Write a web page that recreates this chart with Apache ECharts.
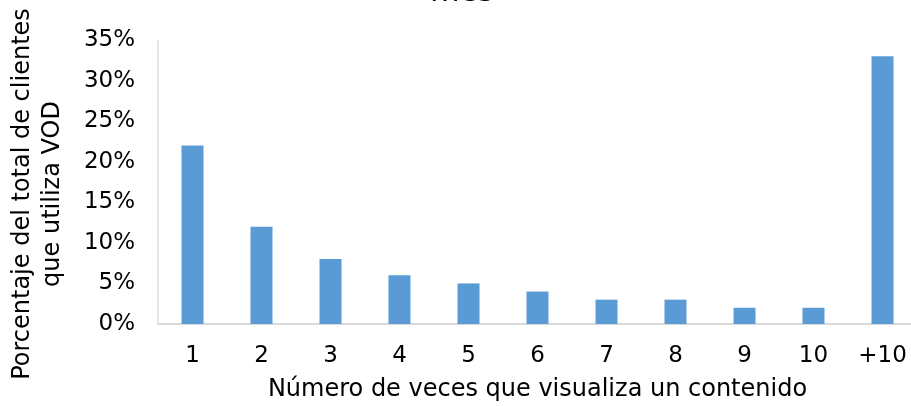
<!DOCTYPE html>
<html>
<head>
<meta charset="utf-8">
<script src="https://cdn.jsdelivr.net/npm/echarts@6/dist/echarts.min.js"></script>
<style>
  html, body { margin: 0; padding: 0; background: #ffffff; }
  #chart { width: 911px; height: 406px; }
</style>
</head>
<body>
<div id="chart"></div>
<script>
// Share of VOD customers by how many times they watch a title
const categories = ['1', '2', '3', '4', '5', '6', '7', '8', '9', '10', '+10'];
const percentages = [22, 12, 8, 6, 5, 4, 3, 3, 2, 2, 33];
const yTicks = { min: 0, max: 35, interval: 5 };

const FONT = 'DejaVu Sans, Verdana, sans-serif';

const chart = echarts.init(document.getElementById('chart'), null, { renderer: 'canvas' });

chart.setOption({
  animation: false,
  backgroundColor: '#ffffff',
  grid: {
    left: 158,
    top: 40,
    right: -6,
    bottom: 82,
    containLabel: false,
    outerBoundsMode: 'none'
  },
  graphic: [
    {
      type: 'text',
      x: 462,
      y: -7,
      z: 100,
      style: {
        text: 'mes',
        font: '30px ' + FONT,
        fill: '#000000',
        align: 'center',
        verticalAlign: 'middle'
      }
    },
    {
      type: 'text',
      x: 38,
      y: 194,
      rotation: Math.PI / 2,
      style: {
        text: 'Porcentaje del total de clientes\nque utiliza VOD',
        font: '24px ' + FONT,
        lineHeight: 30,
        fill: '#000000',
        align: 'center',
        verticalAlign: 'middle'
      }
    }
  ],
  xAxis: {
    type: 'category',
    data: categories,
    name: 'Número de veces que visualiza un contenido',
    nameLocation: 'middle',
    nameGap: 54,
    nameTextStyle: { fontFamily: FONT, fontSize: 24, color: '#000000' },
    axisLine: { show: true, lineStyle: { color: '#d9d9d9', width: 2 } },
    axisTick: { show: false },
    axisLabel: { fontFamily: FONT, fontSize: 23, color: '#000000', margin: 21 },
    splitLine: { show: false }
  },
  yAxis: {
    type: 'value',
    min: yTicks.min,
    max: yTicks.max,
    interval: yTicks.interval,
    axisLine: { show: true, lineStyle: { color: '#dedede', width: 1.5 } },
    axisTick: { show: false },
    axisLabel: {
      fontFamily: FONT,
      fontSize: 23,
      color: '#000000',
      margin: 23,
      formatter: '{value}%'
    },
    splitLine: { show: false }
  },
  series: [
    {
      type: 'bar',
      data: percentages,
      barWidth: 22,
      itemStyle: { color: '#5b9bd5' }
    }
  ]
});
</script>
</body>
</html>
